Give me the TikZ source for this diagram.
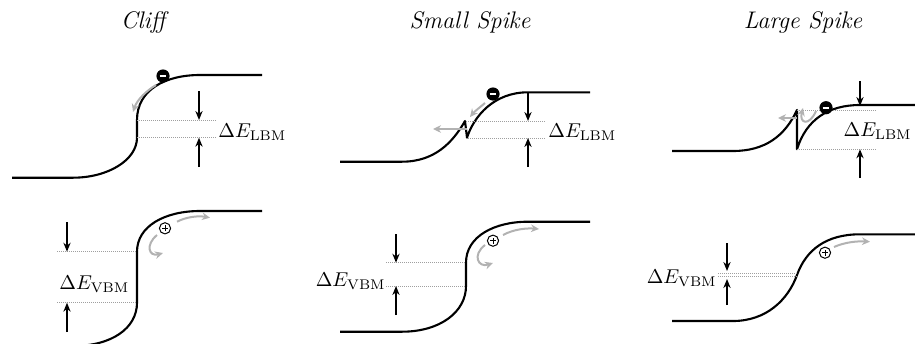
\documentclass[tikz,border=0pt]{standalone}
\usepackage{amsmath}
\usetikzlibrary{arrows.meta}

\begin{document}
\begin{tikzpicture}[x=0.5pt, y=-0.5pt,
  band/.style={line width=1.05pt, line join=round},
  dimarrow/.style={-{Stealth[length=4.5pt, width=3.6pt]}, line width=0.9pt},
  carrier/.style={-{Stealth[length=4pt, width=3.8pt]}, line width=1pt, gray!60},
  level/.style={gray!75, line width=0.5pt, dash pattern=on 0.5pt off 0.5pt},
  electron/.style={circle, fill=black, minimum size=6.6pt, inner sep=0pt,
    path picture={\draw[white, line width=0.8pt]
      ([xshift=-1.7pt]path picture bounding box.center) --
      ([xshift=1.7pt]path picture bounding box.center);}},
  hole/.style={circle, draw=black, fill=white, line width=0.5pt,
    minimum size=5.6pt, inner sep=0pt,
    path picture={\draw[line width=0.4pt]
      ([xshift=-1.5pt]path picture bounding box.center) --
      ([xshift=1.5pt]path picture bounding box.center)
      ([yshift=-1.5pt]path picture bounding box.center) --
      ([yshift=1.5pt]path picture bounding box.center);}},
  title/.style={font=\large\itshape, anchor=base},
  gap/.style={inner sep=0pt}]
  \clip (0,0) rectangle (915,343);

  % ── Titles ──
  \node[title] (tcliff) at (143,28) {Cliff};
  \node[title] (tsmall) at (470,28) {Small Spike};
  \node[title] (tlarge) at (803,28) {Large Spike};

  % ── Conduction band edges ──
  \draw[band] (12,177.7) -- (73,177.7)
    .. controls (108,177.7) and (137,160) .. (137,137.7) -- (137,120)
    .. controls (137,90) and (165,75) .. (200,75) -- (262,75);
  \draw[band] (340,161.7) -- (402,161.7)
    .. controls (435,161.7) and (453,142) .. (465,121) -- (467,137.7)
    .. controls (474,116) and (494,92.3) .. (528,92.3) -- (590,92.3);
  \draw[band] (672,151) -- (733,151)
    .. controls (765,151) and (785,136) .. (797,110) -- (797,149.3)
    .. controls (806,120) and (828,105) .. (860,105) -- (915,105);

  % ── Valence band edges ──
  \draw[band] (262,211) -- (200,211)
    .. controls (165,211) and (137,226) .. (137,251.7) -- (137,302.7)
    .. controls (137,328) and (112,346) .. (73,346) -- (12,346);
  \draw[band] (590,221.7) -- (528,221.7)
    .. controls (495,221.7) and (466,236) .. (466,262.7) -- (466,286)
    .. controls (466,312) and (440,331.7) .. (402,331.7) -- (340,331.7);
  \draw[band] (915,234.3) -- (860,234.3)
    .. controls (826,234.3) and (806,250) .. (797,275)
    .. controls (788,300) and (766,321) .. (733,321) -- (672,321);

  % ── Offset levels ──
  \foreach \xa/\xb/\ya/\yb in {
    137/217/120/137.7, 466/545/121/138, 797/877/110/149.3,
    57/137/251.7/302.7, 386/466/262.7/286, 718/797/273.5/276.5} {
    \draw[level] (\xa,\ya) -- (\xb,\ya);
    \draw[level] (\xa,\yb) -- (\xb,\yb);
  }

  % ── Offset arrows ──
  \foreach \x/\ya/\yb/\yc/\yd in {
    199/91/120/167/137.7, 528/92.3/121/167/138, 860/81/106/178/149.3,
    67/222/251.7/332/302.7, 396/234/262.7/315/286, 727/243/271/305/279} {
    \draw[dimarrow] (\x,\ya) -- (\x,\yb);
    \draw[dimarrow] (\x,\yc) -- (\x,\yd);
  }

  % ── Offset labels ──
  \node[gap, anchor=west] (lcliff) at (218,132.5) {$\Delta E_{\mathrm{LBM}}$};
  \node[gap, anchor=west] (lsmall) at (548,132.5) {$\Delta E_{\mathrm{LBM}}$};
  \node[gap, anchor=east] (llarge) at (912,131) {$\Delta E_{\mathrm{LBM}}$};
  \node[gap, anchor=west] (vcliff) at (59,284) {$\Delta E_{\mathrm{VBM}}$};
  \node[gap, anchor=east] (vsmall) at (386,281) {$\Delta E_{\mathrm{VBM}}$};
  \node[gap, anchor=east] (vlarge) at (717,278) {$\Delta E_{\mathrm{VBM}}$};

  % ── Electrons and their paths ──
  \draw[carrier] (156,85) .. controls (146,91) and (137,100) .. (133,112);
  \draw[carrier] (485,103) .. controls (479,108) and (474,112) .. (470,117);
  \draw[carrier] (467,129) -- (433,129);
  \draw[carrier] (816,111) .. controls (809,127) and (799,123) .. (803,108);
  \draw[carrier] (797,118) -- (778,118);
  \node[electron] (ecliff) at (163,76) {};
  \node[electron] (esmall) at (493,94) {};
  \node[electron] (elarge) at (826,107.7) {};

  % ── Holes and their paths ──
  \draw[carrier] (177,221.7) .. controls (186,217) and (198,215.5) .. (210,217.7);
  \draw[carrier] (157,235) .. controls (145,245) and (149,257) .. (163,253);
  \draw[carrier] (503,235) .. controls (514,229) and (527,228) .. (539,229);
  \draw[carrier] (485,245) .. controls (472,255) and (478,268) .. (493,263);
  \draw[carrier] (834,247) .. controls (845,242) and (858,241) .. (870,241.7);
  \node[hole] (hcliff) at (165,228.3) {};
  \node[hole] (hsmall) at (493,240.7) {};
  \node[hole] (hlarge) at (825,252.7) {};
\end{tikzpicture}
\end{document}
